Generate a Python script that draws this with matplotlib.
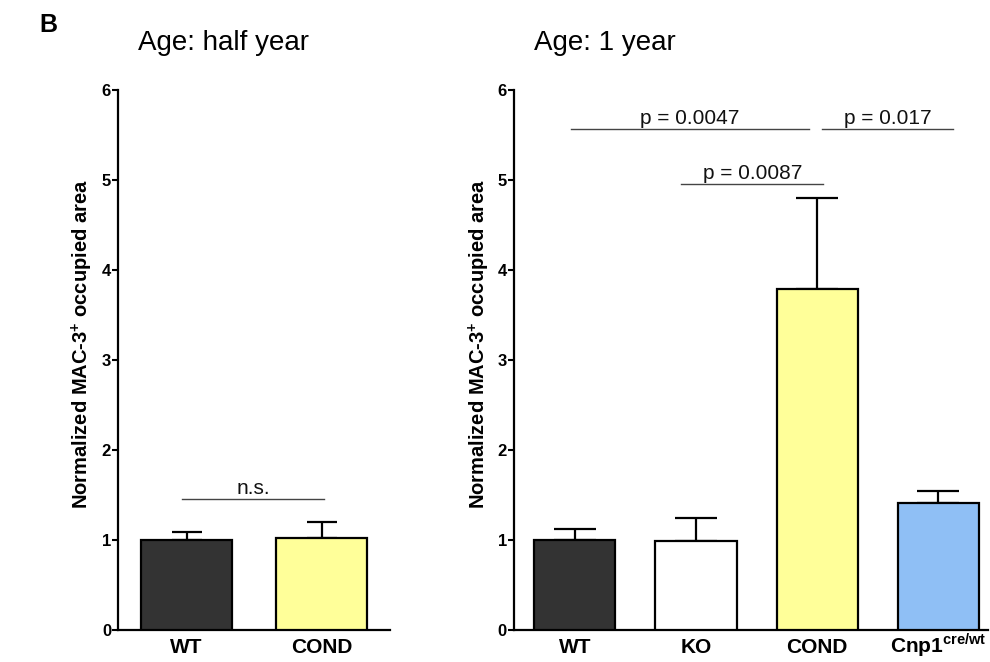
import matplotlib
matplotlib.use('Agg')
import matplotlib.pyplot as plt
import numpy as np

plt.rcParams['font.family'] = ['Liberation Sans', 'DejaVu Sans']
plt.rcParams['mathtext.fontset'] = 'custom'
plt.rcParams['mathtext.rm'] = 'Liberation Sans'
plt.rcParams['mathtext.bf'] = 'Liberation Sans:bold'

# half year
half_groups = ['WT', 'COND']
half_means = [1.0, 1.02]
half_err = [0.09, 0.18]
half_colors = ['#333333', '#ffff99']

# 1 year
year_groups = ['WT', 'KO', 'COND', r'Cnp1$^{\mathbf{cre/wt}}$']
year_means = [1.0, 0.99, 3.79, 1.41]
year_err = [0.12, 0.25, 1.01, 0.14]
year_colors = ['#333333', '#ffffff', '#ffff99', '#8fbff5']

# significance: (x1, x2, y, label)
half_sig = [(-0.03, 1.02, 1.46, 'n.s.')]
year_sig = [(-0.03, 1.93, 5.57, 'p = 0.0047'),
            (2.04, 3.12, 5.57, 'p = 0.017'),
            (0.88, 2.05, 4.96, 'p = 0.0087')]

ylab = r'Normalized MAC-3$^{\mathbf{+}}$ occupied area'

fig = plt.figure(figsize=(9.9, 6.62), dpi=100)
ax1 = fig.add_axes([0.1192, 0.0483, 0.275, 0.8157])
ax2 = fig.add_axes([0.519, 0.0483, 0.479, 0.8157])


def panel(ax, groups, means, err, colors, sig, cap, xlim, title, title_x,
          lab_x):
    x = np.arange(len(groups))
    ax.bar(x, means, width=0.67, color=colors, edgecolor='black',
           linewidth=1.6, zorder=3)
    ax.errorbar(x, means, yerr=[np.zeros(len(err)), err], fmt='none',
                ecolor='black', elinewidth=1.6, capsize=cap, capthick=1.6,
                zorder=2)
    for x1, x2, y, lab in sig:
        ax.plot([x1, x2], [y, y], color='#444444', lw=1.0)
        ax.text((x1 + x2) / 2, y + 0.01, lab, ha='center', va='bottom',
                fontsize=15, color='#111111')
    ax.set_xlim(*xlim)
    ax.set_ylim(0, 6)
    ax.set_yticks(range(7))
    ax.set_yticklabels([str(i) for i in range(7)], fontweight='bold',
                       fontsize=12)
    ax.set_xticks(x)
    ax.set_xticklabels(groups, fontweight='bold', fontsize=15)
    for t in ax.get_xticklabels():
        t.set_verticalalignment('baseline')
    ax.tick_params(axis='x', length=0, pad=16.5)
    ax.tick_params(axis='y', length=4, width=1.5, pad=1)
    for s in ['top', 'right']:
        ax.spines[s].set_visible(False)
    for s in ['left', 'bottom']:
        ax.spines[s].set_linewidth(1.6)
    ax.set_ylabel(ylab, fontweight='bold', fontsize=14.5)
    ax.yaxis.set_label_coords(lab_x, 0.53)
    fig.text(title_x, 0.935, title, fontsize=20, ha='left', va='center')


panel(ax1, half_groups, half_means, half_err, half_colors, half_sig, 11,
      (-0.507, 1.507), 'Age: half year', 0.139, -0.085)
panel(ax2, year_groups, year_means, year_err, year_colors, year_sig, 15,
      (-0.504, 3.41), 'Age: 1 year', 0.539, -0.046)

fig.text(0.04, 0.962, 'B', fontsize=18, fontweight='bold', ha='left',
         va='center')

fig.savefig('out.png', dpi=100)
